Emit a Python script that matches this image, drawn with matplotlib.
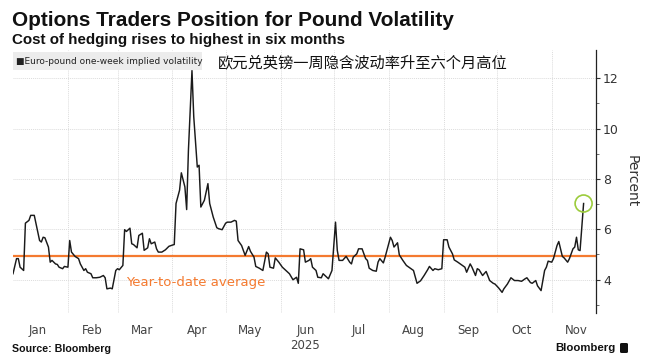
import matplotlib
matplotlib.use("Agg")
import matplotlib.pyplot as plt
from matplotlib.patches import Rectangle, FancyBboxPatch
import pandas as pd

# ---- data ----
day_offsets = [0, 2, 3, 4, 6, 7, 9, 10, 12, 13, 15, 16, 17, 18, 20, 21, 22, 24, 25, 26, 28, 29, 31,
               32, 33, 35, 37, 38, 40, 41, 42, 44, 45, 47, 49, 51, 52, 53, 55, 56, 58, 59, 60, 62,
               63, 64, 66, 67, 68, 70, 71, 73, 74, 76, 77, 78, 80, 81, 82, 84, 86, 88, 90, 91,
               92, 94, 95, 97, 98, 99, 101, 102, 104, 105, 106, 108, 110, 111, 113, 115, 116, 118,
               120, 121, 123, 125, 126, 127, 129, 131, 133, 134, 136, 137, 139, 141, 143, 144, 145,
               147, 148, 150, 152, 154, 156, 158, 160, 161, 162, 164, 165, 167, 168, 169, 171, 172,
               174, 175, 178, 180, 182, 183, 184, 186, 188, 190, 191, 192, 194, 195, 197, 199, 200,
               201, 203, 205, 206, 207, 209, 210, 213, 214, 215, 217, 218, 220, 222, 224, 226, 228,
               230, 232, 234, 235, 237, 238, 240, 242, 243, 245, 246, 248, 249, 251, 253, 255, 256,
               258, 259, 261, 262, 263, 265, 267, 269, 271, 272, 274, 276, 277, 279, 281, 283, 285,
               287, 289, 290, 292, 293, 295, 296, 298, 300, 301, 302, 304, 305, 307, 308, 310, 311,
               313, 314, 316, 317, 318, 319, 320, 322]
volatility = [4.23, 4.83, 4.83, 4.49, 4.36, 6.24, 6.35, 6.55, 6.55, 6.22, 5.55, 5.49, 5.68, 5.66,
              5.29, 4.69, 4.76, 4.62, 4.60, 4.49, 4.43, 4.52, 4.49, 5.55, 5.09, 4.92, 4.83, 4.62,
              4.36, 4.43, 4.29, 4.23, 4.07, 4.07, 4.09, 4.16, 4.07, 3.63, 3.66, 3.63, 4.36, 4.43,
              4.39, 4.56, 5.98, 5.91, 6.04, 5.42, 5.39, 5.26, 5.75, 5.84, 5.16, 5.26, 5.62, 5.42,
              5.49, 5.22, 5.09, 5.09, 5.18, 5.32, 5.37, 5.39, 7.02, 7.55, 8.24, 7.68, 6.78, 9.14,
              12.30, 10.47, 8.47, 8.54, 6.88, 7.15, 7.81, 7.02, 6.48, 6.06, 6.02, 5.98, 6.24, 6.28,
              6.28, 6.35, 6.32, 5.55, 5.35, 4.96, 5.31, 5.12, 4.89, 4.52, 4.45, 4.36, 5.09, 5.02,
              4.49, 4.45, 4.86, 4.69, 4.49, 4.36, 4.23, 3.99, 4.09, 3.85, 5.22, 5.18, 4.69, 4.76,
              4.83, 4.49, 4.36, 4.09, 4.07, 4.23, 4.03, 4.36, 6.28, 5.16, 4.76, 4.76, 4.92, 4.69,
              4.62, 4.89, 5.02, 5.22, 5.22, 4.83, 4.76, 4.45, 4.36, 4.33, 4.69, 4.83, 4.66, 4.89,
              5.68, 5.55, 5.29, 5.46, 4.98, 4.76, 4.56, 4.46, 4.36, 3.85, 3.95, 4.16, 4.39, 4.52,
              4.36, 4.43, 4.39, 4.43, 5.58, 5.58, 5.29, 5.02, 4.78, 4.69, 4.59, 4.49, 4.29, 4.62,
              4.49, 4.16, 4.43, 4.39, 4.16, 4.32, 3.96, 3.85, 3.82, 3.67, 3.49, 3.63, 3.82, 4.07,
              3.96, 3.96, 3.93, 4.03, 4.07, 3.88, 3.85, 3.96, 3.75, 3.56, 4.36, 4.49, 4.73, 4.69,
              4.83, 5.35, 5.51, 4.92, 4.86, 4.69, 4.83, 5.22, 5.29, 5.68, 5.18, 5.15, 7.02]
ytd_average = 4.95
month_labels = ["Jan", "Feb", "Mar", "Apr", "May", "Jun\n2025", "Jul", "Aug", "Sep", "Oct", "Nov"]
y_ticks = [4, 6, 8, 10, 12]

start = pd.Timestamp("2025-01-01")
dates = [start + pd.Timedelta(days=d) for d in day_offsets]

W, H = 651, 363
fig = plt.figure(figsize=(W / 100, H / 100), dpi=100)
ax = fig.add_axes([13 / W, (H - 313) / H, (596 - 13) / W, (313 - 50) / H])

ax.plot(dates, volatility, color="#1a1a1a", lw=1.05, zorder=3)
ax.axhline(ytd_average, color="#f47a30", lw=1.6, zorder=2)
ax.scatter([dates[-1]], [volatility[-1]], s=150, facecolors="none",
           edgecolors="#9ccc3c", linewidths=1.2, zorder=4)

ax.set_xlim(start, start + pd.Timedelta(days=329))
ax.set_ylim(2.67, 13.12)

ax.yaxis.tick_right()
ax.set_yticks(y_ticks)
ax.set_yticks([3, 5, 7, 9, 11], minor=True)
ax.tick_params(axis="y", which="major", length=3, width=0.8, color="#333333",
               labelsize=9, labelcolor="#333333", pad=2)
ax.tick_params(axis="y", which="minor", length=2, width=0.6, color="#555555")
ax.yaxis.set_label_position("right")
ax.set_ylabel("Percent", rotation=-90, labelpad=14, fontsize=10, color="#333333")

month_starts = pd.date_range("2025-02-01", periods=10, freq="MS")
mid_months = pd.date_range("2025-01-01", periods=11, freq="MS") + pd.Timedelta(days=14)
ax.set_xticks(month_starts)
ax.set_xticklabels([])
ax.set_xticks(mid_months, minor=True)
ax.set_xticklabels(month_labels, minor=True)
ax.tick_params(axis="x", which="both", length=0, labelsize=8.5, labelcolor="#444444", pad=8)

ax.grid(axis="x", which="major", color="#dcdcdc", linestyle=(0, (1, 1)), lw=0.7)
ax.grid(axis="y", which="major", color="#dcdcdc", linestyle=(0, (1, 1)), lw=0.7)

for s in ["top", "left", "bottom"]:
    ax.spines[s].set_visible(False)
ax.spines["right"].set_color("#222222")
ax.spines["right"].set_linewidth(0.9)

ax.text(start + pd.Timedelta(days=64), 3.88, "Year-to-date average", color="#f47a30",
        fontsize=9.5, va="center", ha="left")

fig.patches.append(Rectangle((13 / W, (H - 70) / H), (202 - 13) / W, 18 / H,
                             transform=fig.transFigure, facecolor="#ececec",
                             edgecolor="none", zorder=1))
fig.text(16 / W, (H - 61) / H, "■Euro-pound one-week implied volatility", fontsize=6.5,
         color="#222222", va="center", ha="left", zorder=2)

fig.text(218 / W, (H - 63) / H, "欧元兑英镑一周隐含波动率升至六个月高位", fontsize=11,
         family=["Noto Sans CJK SC", "DejaVu Sans"], color="#111111", va="center", ha="left")

sans = ["Liberation Sans", "DejaVu Sans"]
title = fig.text(12 / W, (H - 20) / H, "Options Traders Position for Pound Volatility",
                 fontsize=14.5, fontweight="bold", family=sans, color="#111111",
                 va="center", ha="left")
subtitle = fig.text(12 / W, (H - 40) / H, "Cost of hedging rises to highest in six months",
                    fontsize=10.5, fontweight="bold", family=sans, color="#111111",
                    va="center", ha="left")
source = fig.text(12 / W, (H - 349) / H, "Source: Bloomberg", fontsize=7.5, fontweight="bold",
                  family=sans, color="#111111", va="center", ha="left")
brand = fig.text(616 / W, (H - 348) / H, "Bloomberg", fontsize=10, fontweight="bold",
                 family=sans, color="#111111", va="center", ha="right")
fig.patches.append(FancyBboxPatch((620 / W, (H - 353) / H), 8 / W, 10 / H,
                                  boxstyle="round,pad=0,rounding_size=0.003",
                                  transform=fig.transFigure, facecolor="#111111",
                                  edgecolor="none"))

# fit text widths to the reference layout
fig.canvas.draw()
r = fig.canvas.get_renderer()
for t, target in [(title, 441), (subtitle, 334), (source, 98), (brand, 60)]:
    w = t.get_window_extent(r).width
    t.set_fontsize(t.get_fontsize() * target / w)

fig.savefig("out.png", dpi=100)
